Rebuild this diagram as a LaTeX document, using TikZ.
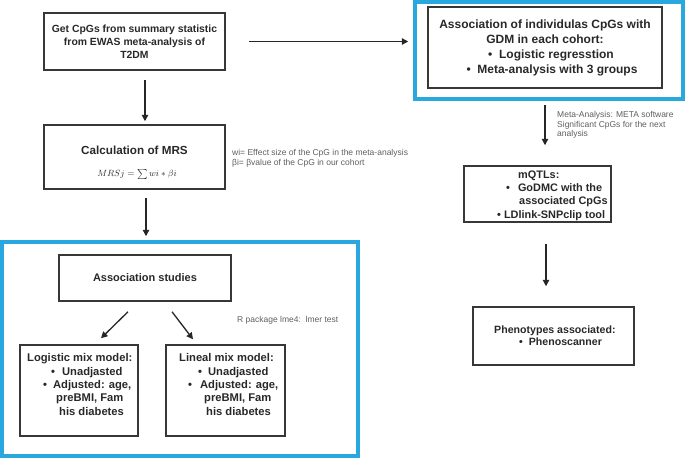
\documentclass[tikz,border=0pt]{standalone}
\usepackage{fontspec}
\setmainfont{Liberation Sans}
\usetikzlibrary{arrows.meta}
\definecolor{bluebox}{RGB}{41,168,224}
\definecolor{boxline}{RGB}{55,55,55}
\definecolor{txt}{RGB}{40,40,40}
\definecolor{notecol}{RGB}{95,95,95}
\begin{document}
\begin{tikzpicture}[x=1pt,y=-1pt,
  box/.style={draw=boxline, line width=1.5pt, inner sep=0pt, text=txt, align=center},
  blue/.style={draw=bluebox, line width=3.5pt, inner sep=0pt},
  bodytext/.style={inner sep=0pt, text=txt, align=left},
  notetext/.style={inner sep=0pt, text=notecol, align=left, font=\fontsize{8.5}{9.5}\selectfont},
  arr/.style={-{Triangle[length=6.5pt,width=6.5pt]}, line width=1.3pt, draw=black!85}]
\useasboundingbox (0,0) rectangle (685,458);

% left column
\node[box, minimum width=181pt, minimum height=57pt,
      font=\fontsize{10.4}{13}\selectfont\bfseries] (get) at (134.5,41.5)
  {Get CpGs from summary statistic\\from EWAS meta-analysis of\\T2DM};

\node[box, minimum width=181pt, minimum height=64pt] (mrs) at (134.5,157) {};
\node[inner sep=0pt, text=txt, font=\fontsize{11.7}{14}\selectfont\bfseries] (mrstitle) at (134.5,150) {Calculation of MRS};
\node[inner sep=0pt, text=txt, font=\fontsize{9.5}{11}\selectfont] (mrsformula) at (137,174) {$MRSj=\textstyle\sum wi*\beta i$};

\node[notetext, anchor=west] (wnote) at (232,158.5)
  {wi= Effect size of the CpG in the meta-analysis\\βi= βvalue of the CpG in our cohort};

\node[blue, minimum width=356pt, minimum height=214pt] (studies) at (180,349) {};
\node[box, minimum width=172pt, minimum height=46pt,
      font=\fontsize{11}{13}\selectfont\bfseries] (assoc) at (145,278) {Association studies};
\node[notetext, anchor=west] (rnote) at (237,320) {R package lme4:\ \ lmer test};

\node[box, minimum width=118pt, minimum height=91pt] (logit) at (79,390.5) {};
\node[bodytext, anchor=west, font=\fontsize{11.2}{13.3}\selectfont\bfseries] (logittext) at (27,384.4)
  {Logistic mix model:\\
   \hspace*{24pt}•\hspace{7pt}Unadjasted\\
   \hspace*{16pt}•\hspace{6pt}Adjusted: age,\\
   \hspace*{29pt}preBMI, Fam\\
   \hspace*{32pt}his diabetes};

\node[box, minimum width=119pt, minimum height=91pt] (lineal) at (225.5,390.5) {};
\node[bodytext, anchor=west, font=\fontsize{11.2}{13.3}\selectfont\bfseries] (linealtext) at (179,384.4)
  {Lineal mix model:\\
   \hspace*{19pt}•\hspace{6pt}Unadjasted\\
   \hspace*{9pt}•\hspace{8pt}Adjusted: age,\\
   \hspace*{25pt}preBMI, Fam\\
   \hspace*{27pt}his diabetes};

% right column
\node[blue, minimum width=268pt, minimum height=97pt] (assocbox) at (549,50.5) {};
\node[box, minimum width=234pt, minimum height=81pt,
      font=\fontsize{12}{15}\selectfont\bfseries] (indiv) at (545,47.5)
  {Association of individulas CpGs with\\GDM in each cohort:\\
   \hspace*{12pt}•\ \ Logistic regresstion\\
   \hspace*{14pt}•\ \ Meta-analysis with 3 groups};

\node[notetext, anchor=west] (metanote) at (557,125)
  {Meta-Analysis: META software\\Significant CpGs for the next\\analysis};

\node[box, minimum width=147pt, minimum height=56pt] (mqtl) at (537.5,194) {};
\node[bodytext, anchor=west, font=\fontsize{10.9}{13.3}\selectfont\bfseries] (mqtltext) at (497,195.5)
  {\hspace*{21pt}mQTLs:\\
   \hspace*{9pt}•\hspace{8pt}GoDMC with the\\
   \hspace*{22pt}associated CpGs\\
   •\hspace{3pt}LDlink-SNPclip tool};

\node[box, minimum width=161pt, minimum height=58pt] (pheno) at (553.5,336) {};
\node[bodytext, anchor=west, font=\fontsize{10.6}{12.5}\selectfont\bfseries] (phenotext) at (494,335.5)
  {Phenotypes associated:\\
   \hspace*{25pt}•\hspace{6pt}Phenoscanner};

% connectors
\draw[arr, shorten <=9pt, shorten >=3pt] ([xshift=10.5pt]get.south) -- ([xshift=10.5pt]mrs.north);
\draw[arr, shorten <=8pt, shorten >=4pt] ([xshift=11.5pt]mrs.south) -- ([xshift=-34pt]studies.north);
\draw[arr, shorten <=23pt, shorten >=5pt] (get.east) -- (get.east -| assocbox.west);
\draw[arr, shorten <=4pt, shorten >=20pt] ([xshift=-4pt]assocbox.south) -- ([xshift=7.5pt]mqtl.north);
\draw[arr, shorten <=21pt, shorten >=20pt] ([xshift=8.5pt]mqtl.south) -- ([xshift=-7.5pt]pheno.north);
\draw[arr] ([xshift=-17pt,yshift=-10pt]assoc.south) -- ([xshift=22pt,yshift=6pt]logit.north);
\draw[arr] ([xshift=27pt,yshift=-10pt]assoc.south) -- ([xshift=-32.5pt,yshift=5pt]lineal.north);
\end{tikzpicture}
\end{document}
